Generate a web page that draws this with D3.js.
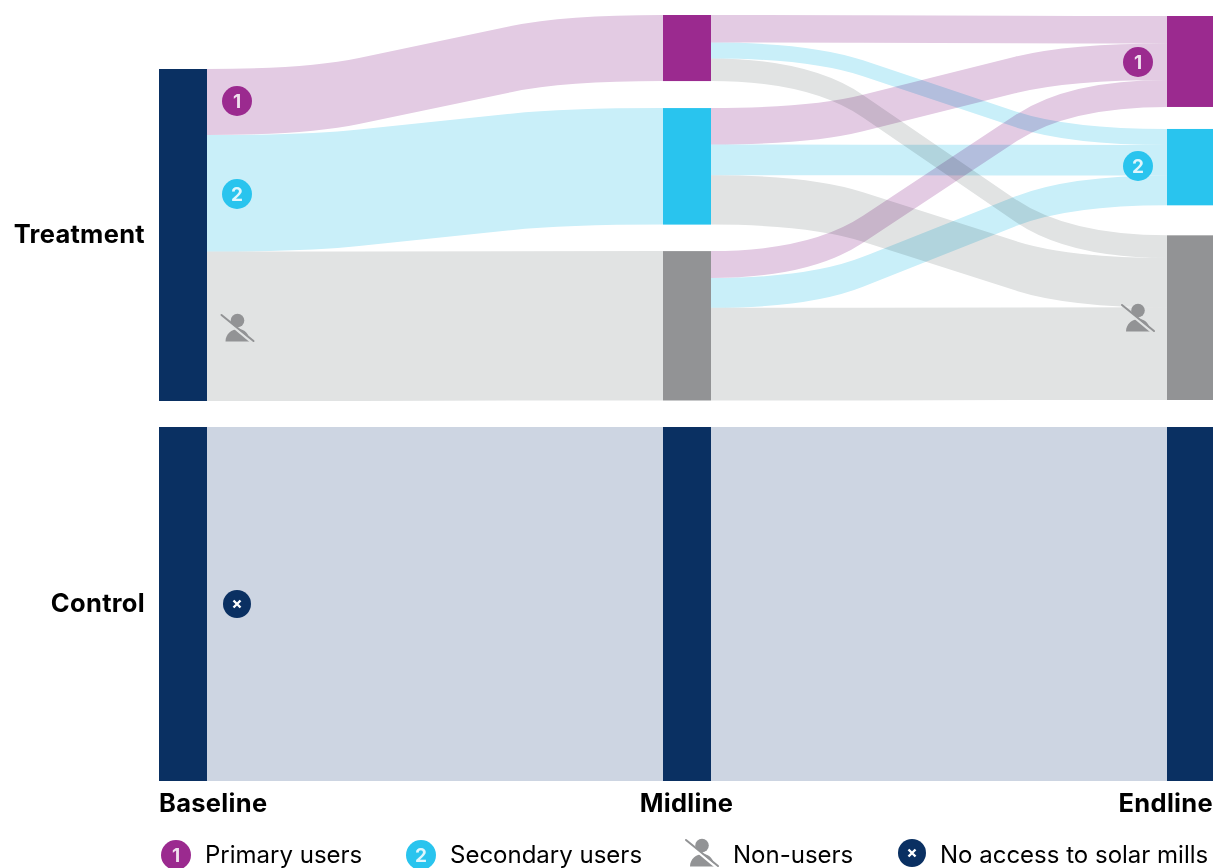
<!DOCTYPE html>
<html>
<head>
<meta charset="utf-8">
<script src="https://cdn.jsdelivr.net/npm/d3@7"></script>
<style>
  html, body { margin: 0; padding: 0; background: #fff; }
  svg { display: block; }
  text { font-family: Inter, Lato, sans-serif; fill: #000; }
  .axis-label { font-size: 25.5px; font-weight: 700; letter-spacing: .3px; }
  .legend-label { font-size: 24px; font-weight: 400; }
  .badge { font-size: 19px; font-weight: 700; fill: #fff; fill-opacity: .85; text-anchor: middle; }
  .link { mix-blend-mode: multiply; }
</style>
</head>
<body>
<div id="chart"></div>
<script>
// share of households in each group, in percent
var stages = ["Baseline", "Midline", "Endline"];
var categories = ["primary", "secondary", "non"];
var baselineValues = [19.9, 35.1, 45.0];
var midlineValues = [19.9, 35.1, 45.0];
var endlineValues = [27.4, 23.0, 49.6];
var controlValues = [100];

// midline -> endline, rows are midline category, columns endline category
var midToEnd = [
    [8.3, 4.8, 6.8],
    [11.0, 9.2, 14.9],
    [8.1, 9.0, 27.9]
];

var legendLabels = ["Primary users", "Secondary users", "Non-users", "No access to solar mills"];

var width = 1213;
var height = 868;
var nodeWidth = 48;

var color = { primary: "#9b2a8f", secondary: "#29c4ee", non: "#929395", control: "#0a3062" };
var linkColor = { primary: "#e3cbe3", secondary: "#c9eff9", non: "#e1e3e3", control: "#cdd5e2" };

var x = d3.scalePoint().domain(stages).range([159, 1167]); // left edge of each column
var yTreatment = d3.scaleLinear().domain([0, 100]).range([0, 332]);
var yControl = d3.scaleLinear().domain([0, 100]).range([427, 781]);

var svg = d3.select("#chart").append("svg")
    .attr("width", width)
    .attr("height", height);

// stack a column from its top with the given gaps between blocks
function stack(values, top, gaps) {
    var y = top;
    return values.map(function(v, i) {
        var h = yTreatment(v);
        var node = { name: categories[i], y0: y, y1: y + h, used0: y };
        y += h + (gaps[i] || 0);
        return node;
    });
}

var baseline = stack(baselineValues, 69, []);
var midline = stack(midlineValues, 15, [27, 26.5]);
var endline = stack(endlineValues, 16, [22, 30]);

// one edge of a ribbon: flat start, straight middle third, flat end
function edge(p, xa, ya, xb, yb) {
    var w = xb - xa, dy = yb - ya;
    p.quadraticCurveTo(xa + .2167 * w, ya, xa + w / 3, ya + .206 * dy);
    p.lineTo(xa + 2 * w / 3, ya + .794 * dy);
    p.quadraticCurveTo(xa + .7833 * w, yb, xb, yb);
}

function ribbon(xa, xb, a0, a1, b0, b1) {
    var p = d3.path();
    p.moveTo(xa, a0);
    edge(p, xa, a0, xb, b0);
    p.lineTo(xb, b1);
    edge(p, xb, b1, xa, a1);
    p.closePath();
    return p.toString();
}

var links = [];
baseline.forEach(function(n, i) {
    links.push({ cat: n.name, xa: x("Baseline") + nodeWidth, xb: x("Midline"),
        a0: n.y0, a1: n.y1, b0: midline[i].y0, b1: midline[i].y1 });
});
midToEnd.forEach(function(row, i) {
    row.forEach(function(v, j) {
        var h = yTreatment(v);
        var from = midline[i], to = endline[j];
        links.push({ cat: categories[j],
            xa: x("Midline") + nodeWidth, xb: x("Endline"),
            a0: from.used0, a1: from.used0 + h, b0: to.used0, b1: to.used0 + h });
        from.used0 += h;
        to.used0 += h;
    });
});
// control group just runs straight through
links.push({ cat: "control", xa: x("Baseline") + nodeWidth, xb: x("Midline"), a0: 427, a1: 781, b0: 427, b1: 781 });
links.push({ cat: "control", xa: x("Midline") + nodeWidth, xb: x("Endline"), a0: 427, a1: 781, b0: 427, b1: 781 });

svg.append("g").style("isolation", "isolate")
    .selectAll("path")
    .data(links)
    .enter().append("path")
    .attr("class", "link")
    .attr("d", function(d) { return ribbon(d.xa, d.xb, d.a0, d.a1, d.b0, d.b1); })
    .style("fill", function(d) { return linkColor[d.cat]; });

// nodes
var nodeRects = [
    { stage: "Baseline", name: "control", y0: 69, y1: 69 + yTreatment(d3.sum(baselineValues)) }
];
midline.forEach(function(n) { nodeRects.push({ stage: "Midline", name: n.name, y0: n.y0, y1: n.y1 }); });
endline.forEach(function(n) { nodeRects.push({ stage: "Endline", name: n.name, y0: n.y0, y1: n.y1 }); });
stages.forEach(function(s) {
    nodeRects.push({ stage: s, name: "control", y0: yControl(0), y1: yControl(controlValues[0]) });
});

svg.append("g").selectAll("rect")
    .data(nodeRects)
    .enter().append("rect")
    .attr("x", function(d) { return x(d.stage); })
    .attr("y", function(d) { return d.y0; })
    .attr("width", nodeWidth)
    .attr("height", function(d) { return d.y1 - d.y0; })
    .style("fill", function(d) { return color[d.name]; });

// icons
function numberBadge(cx, cy, num, fill) {
    var g = svg.append("g").attr("transform", "translate(" + cx + "," + cy + ")");
    g.append("circle").attr("r", 15).style("fill", fill);
    g.append("text").attr("class", "badge").attr("y", 7).text(num);
}

function crossBadge(cx, cy) {
    var g = svg.append("g").attr("transform", "translate(" + cx + "," + cy + ")");
    g.append("circle").attr("r", 14).style("fill", color.control);
    g.append("path").attr("d", "M-3.5,-3.5L3.5,3.5M3.5,-3.5L-3.5,3.5")
        .style("stroke", "#fff").style("stroke-width", 2.4).style("fill", "none");
}

function personIcon(cx, cy, bg) {
    var g = svg.append("g").attr("transform", "translate(" + cx + "," + cy + ")");
    g.append("circle").attr("cy", -7.5).attr("r", 6.8).style("fill", color.non);
    g.append("path").attr("d", "M-12,13.5C-12,6 -6,1 1,1C7,1 12,6 12,13.5Z").style("fill", color.non);
    // gap between the slash and the body sits just under the slash
    g.append("line").attr("x1", -16).attr("y1", -11).attr("x2", 14).attr("y2", 14)
        .style("stroke", bg).style("stroke-width", 2.5);
    g.append("line").attr("x1", -16).attr("y1", -13).attr("x2", 16).attr("y2", 13)
        .style("stroke", color.non).style("stroke-width", 2).style("stroke-linecap", "round");
}

numberBadge(237, 101, "1", color.primary);
numberBadge(237, 194, "2", color.secondary);
personIcon(237.5, 328, linkColor.non);
crossBadge(237, 604);
numberBadge(1138, 62, "1", color.primary);
numberBadge(1138, 166, "2", color.secondary);
personIcon(1138, 318, linkColor.non);

// row and column labels
svg.append("text").attr("class", "axis-label").attr("x", 145).attr("y", 243)
    .style("text-anchor", "end").text("Treatment");
svg.append("text").attr("class", "axis-label").attr("x", 145).attr("y", 612)
    .style("text-anchor", "end").text("Control");

svg.append("text").attr("class", "axis-label").attr("x", 159).attr("y", 812).text(stages[0]);
svg.append("text").attr("class", "axis-label").attr("x", 686.5).attr("y", 812)
    .style("text-anchor", "middle").text(stages[1]);
svg.append("text").attr("class", "axis-label").attr("x", 1213).attr("y", 812)
    .style("text-anchor", "end").text(stages[2]);

// legend
numberBadge(176, 855, "1", color.primary);
numberBadge(421, 855, "2", color.secondary);
personIcon(702, 853, "#fff");
crossBadge(912, 853);
var legendX = [205, 450, 733, 940];
svg.append("g").selectAll("text")
    .data(legendLabels)
    .enter().append("text")
    .attr("class", "legend-label")
    .attr("x", function(d, i) { return legendX[i]; })
    .attr("y", 863)
    .text(function(d) { return d; });
</script>
</body>
</html>
